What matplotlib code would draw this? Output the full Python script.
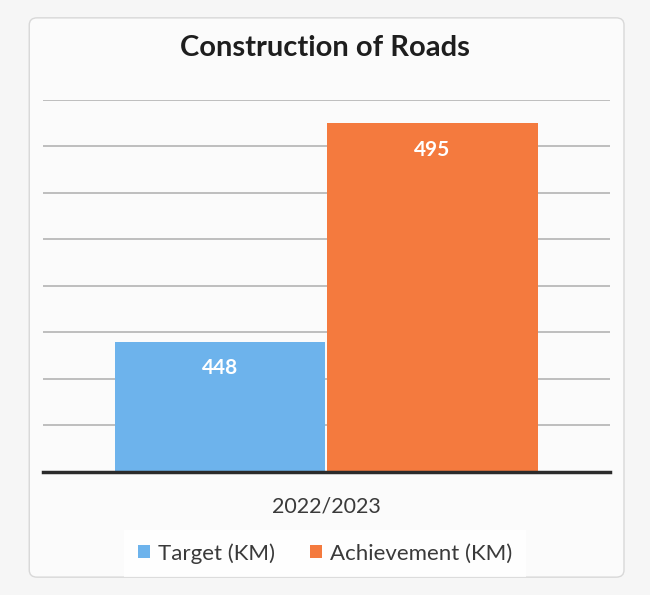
import matplotlib.pyplot as plt
from matplotlib.patches import FancyBboxPatch

plt.rcParams['font.family'] = ['Lato', 'DejaVu Sans']

# data
category = "2022/2023"
series = ["Target (KM)", "Achievement (KM)"]
values = [448, 495]
colors = ["#6db3ec", "#f47a3e"]

fig = plt.figure(figsize=(6.5, 5.95), dpi=100)
fig.patch.set_facecolor("#f6f6f6")

# chart box (behind the axes)
box = FancyBboxPatch((0.045, 0.03), 0.915, 0.94, boxstyle="round,pad=0,rounding_size=0.012",
                     transform=fig.transFigure, facecolor="#fbfbfb", edgecolor="#d8d8d8",
                     lw=1, zorder=-5)
fig.patches.append(box)

ax = fig.add_axes([0.066, 0.207, 0.872, 0.625])
ax.set_facecolor("none")

width = 0.375
offsets = [-width / 2, width / 2]
for off, v, c, name in zip(offsets, values, colors, series):
    ax.bar(off, v, width=width * 0.99, color=c, label=name, zorder=2)
    ax.text(off, v - 3.6, str(v), ha="center", va="top", color="white",
            fontsize=15, fontweight="bold", zorder=3)

ax.set_xlim(-0.5, 0.5)
ax.set_ylim(420, 500)
ax.set_yticks(range(430, 501, 10))
ax.yaxis.grid(True, color="#b4b4b4", lw=1.2)
ax.set_axisbelow(True)
ax.tick_params(left=False, labelleft=False, bottom=False)
ax.set_xticks([0])
ax.set_xticklabels([category], fontsize=15.5, color="#3a3a3a")
ax.tick_params(axis="x", pad=14)
for s in ["top", "right", "left"]:
    ax.spines[s].set_visible(False)
ax.spines["bottom"].set_color("#2b2b2b")
ax.spines["bottom"].set_linewidth(2.5)

fig.text(0.5, 0.92, "Construction of Roads", ha="center", va="center",
         fontsize=21, fontweight="bold", color="#1e1e1e")

leg = fig.legend(loc="center", bbox_to_anchor=(0.5, 0.07), ncol=2, frameon=True,
                 fontsize=16, handlelength=0.55, handleheight=0.55, handletextpad=0.35,
                 columnspacing=1.6, labelcolor="#3a3a3a")
leg.get_frame().set_facecolor("#ffffff")
leg.get_frame().set_edgecolor("none")
leg.get_frame().set_boxstyle("square", pad=0.2)

fig.savefig("out.png", dpi=100, facecolor=fig.get_facecolor())
